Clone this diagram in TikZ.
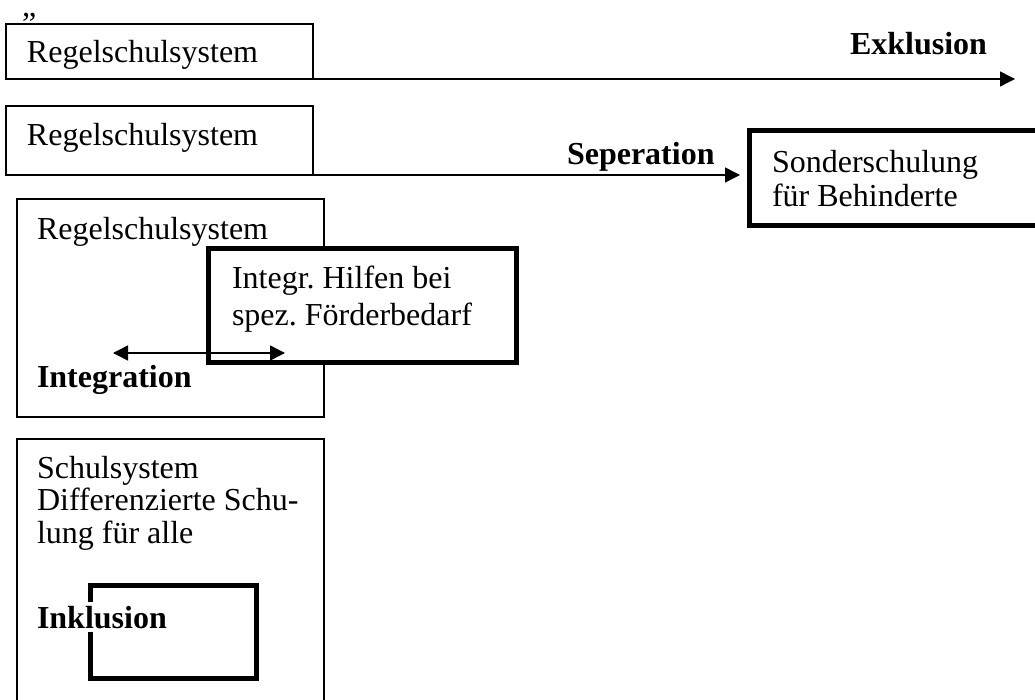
\documentclass[tikz,border=0pt]{standalone}
\usepackage{fontspec}
\setmainfont{Liberation Serif}
\usetikzlibrary{arrows.meta, positioning}
\frenchspacing

\begin{document}
\begin{tikzpicture}[x = 1pt, y = -1pt,
		every node/.append style = {font=\fontsize{32}{36}\selectfont, inner sep=0pt, outer sep=0pt},
		thinbox/.style = {draw, line width=1.6pt, anchor=north west},
		thickbox/.style = {draw, line width=5pt, fill=white, anchor=north west},
		txt/.style = {anchor=base west, align=left},
		link/.style = {line width=1.4pt, -{Triangle[length=15pt, width=15pt]}}]
			\clip (0,0) rectangle (1035,700);
			\node[txt] (quote) at (22,16.5) {„};

			% Exklusion
			\node[thinbox, minimum width=307pt, minimum height=55pt] (reg1) at (6,24) {};
			\node[txt] (reg1t) at (27,63) {Regelschulsystem};
			\node[txt, font=\fontsize{32}{36}\selectfont\bfseries] (exkl) at (850,55) {Exklusion};
			\coordinate (exend) at (1015,79);
			\draw[link] (reg1.south east) -- (exend);

			% Seperation
			\node[thinbox, minimum width=307pt, minimum height=69pt] (reg2) at (6,106) {};
			\node[txt] (reg2t) at (27,146) {Regelschulsystem};
			\node[thickbox, minimum width=300pt, minimum height=95pt] (sonder) at (749.5,130.5) {};
			\node[txt, font=\fontsize{32}{34}\selectfont] (sondert) at (772,207) {Sonderschulung\\für Behinderte};
			\node[txt, font=\fontsize{32}{36}\selectfont\bfseries] (sep) at (567,165) {Seperation};
			\coordinate (sepend) at (740,175);
			\draw[link] (reg2.south east) -- (sepend);

			% Integration
			\node[thinbox, minimum width=307pt, minimum height=218pt] (reg3) at (17,199) {};
			\node[txt] (reg3t) at (37,240) {Regelschulsystem};
			\node[thickbox, minimum width=308pt, minimum height=113pt] (hilfen) at (208.5,249) {};
			\node[txt, font=\fontsize{32}{37}\selectfont] (hilfent) at (232,326) {Integr. Hilfen bei\\spez. Förderbedarf};
			\coordinate (ia) at (113,353);
			\coordinate (ib) at (285,353);
			\draw[link, {Triangle[length=15pt, width=15pt]}-{Triangle[length=15pt, width=15pt]}] (ia) -- (ib);
			\node[txt, font=\fontsize{32}{36}\selectfont\bfseries] (integ) at (37,387) {Integration};

			% Inklusion
			\node[thinbox, minimum width=307pt, minimum height=281pt] (sys) at (17,439) {};
			\node[txt, font=\fontsize{32}{32.5}\selectfont] (syst) at (37,543) {Schulsystem\\Differenzierte Schu-\\lung für alle};
			\node[thickbox, minimum width=166pt, minimum height=93pt] (inkbox) at (90,585) {};
			\node[txt, fill=white, inner ysep=4pt, font=\fontsize{32}{36}\selectfont\bfseries] (inkl) at (37,628) {Inklusion};
		\end{tikzpicture}
\end{document}
